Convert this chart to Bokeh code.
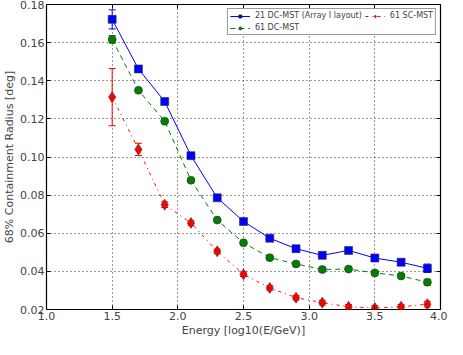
from bokeh.plotting import figure
from bokeh.models import (ColumnDataSource, Whisker, TeeHead, FixedTicker, NumeralTickFormatter,
                          Legend, LegendItem, Range1d, LinearAxis)
from bokeh.embed import file_html
from bokeh.resources import INLINE

energy = [1.5, 1.7, 1.9, 2.1, 2.3, 2.5, 2.7, 2.9, 3.1, 3.3, 3.5, 3.7, 3.9]
dc21 = [0.1722, 0.1462, 0.1291, 0.1007, 0.0786, 0.0662, 0.0574, 0.0519, 0.0484, 0.0510, 0.0470, 0.0448, 0.0416]
dc21_err = [0.005, 0.0012, 0.0008, 0.0008, 0.0007, 0.0007, 0.0008, 0.0008, 0.0008, 0.0009, 0.0010, 0.0015, 0.0022]
dc61 = [0.1617, 0.1350, 0.1188, 0.0878, 0.0669, 0.0550, 0.0472, 0.0439, 0.0410, 0.0412, 0.0392, 0.0376, 0.0343]
dc61_err = [0.0020, 0.0008, 0.0006, 0.0006, 0.0006, 0.0006, 0.0006, 0.0006, 0.0006, 0.0007, 0.0008, 0.0010, 0.0015]
sc61 = [0.1314, 0.1040, 0.0750, 0.0654, 0.0505, 0.0385, 0.0313, 0.0262, 0.0236, 0.0214, 0.0208, 0.0214, 0.0228]
sc61_err = [0.0150, 0.0032, 0.0015, 0.0012, 0.0012, 0.0012, 0.0012, 0.0012, 0.0012, 0.0012, 0.0012, 0.0012, 0.0015]

x_ticks = [1.0, 1.5, 2.0, 2.5, 3.0, 3.5, 4.0]
y_ticks = [0.02, 0.04, 0.06, 0.08, 0.10, 0.12, 0.14, 0.16, 0.18]

labels = ["21 DC-MST (Array I layout)", "61 DC-MST", "61 SC-MST"]
colors = ["#0000ff", "#008000", "#ff0000"]
dashes = ["solid", "5 4", "3 4 1 4"]
markers = ["square", "circle", "diamond"]

FONT = "DejaVu Sans"

p = figure(width=447, height=339, output_backend="svg", toolbar_location=None,
           x_range=Range1d(1.0, 4.0), y_range=Range1d(0.02, 0.18),
           min_border_left=40, min_border_right=7, min_border_top=4, min_border_bottom=26)
p.outline_line_color = "black"
p.outline_line_width = 1.2

for ax in (p.xaxis[0], p.yaxis[0]):
    ax.major_label_text_font = FONT
    ax.major_label_text_font_size = "11px"
    ax.axis_label_text_font = FONT
    ax.axis_label_text_font_size = "11px"
    ax.axis_label_text_font_style = "normal"
    ax.axis_line_color = None
    ax.major_tick_out = 0
    ax.major_tick_in = 4
    ax.minor_tick_out = 0
    ax.minor_tick_in = 0
    ax.major_label_standoff = 2
    ax.axis_label_standoff = 1

p.xaxis.ticker = FixedTicker(ticks=x_ticks)
p.yaxis.ticker = FixedTicker(ticks=y_ticks)
p.xaxis.formatter = NumeralTickFormatter(format="0.0")
p.yaxis.formatter = NumeralTickFormatter(format="0.00")
p.xaxis.axis_label = "Energy [log10(E/GeV)]"
p.yaxis.axis_label = "68% Containment Radius [deg]"

# mirrored inward ticks on top and right, like the original frame
for side, ticks in (("above", x_ticks), ("right", y_ticks)):
    ax2 = LinearAxis(ticker=FixedTicker(ticks=ticks), axis_line_color=None,
                     major_tick_out=0, major_tick_in=4, minor_tick_out=0, minor_tick_in=0,
                     major_label_text_font_size="0px", major_label_standoff=0,
                     major_label_text_alpha=0)
    p.add_layout(ax2, side)

p.grid.grid_line_color = "black"
p.grid.grid_line_dash = "1 3"
p.grid.grid_line_alpha = 0.8
p.grid.grid_line_width = 1

items = []
for vals, errs, lab, col, dash, mk in zip([dc21, dc61, sc61], [dc21_err, dc61_err, sc61_err],
                                          labels, colors, dashes, markers):
    src = ColumnDataSource(dict(x=energy, y=vals,
                                lo=[v - e for v, e in zip(vals, errs)],
                                hi=[v + e for v, e in zip(vals, errs)]))
    ln = p.line("x", "y", source=src, line_color=col, line_width=1, line_dash=dash)
    w = Whisker(source=src, base="x", lower="lo", upper="hi", dimension="height",
                line_color=col, line_width=1,
                upper_head=TeeHead(size=7, line_color=col, line_width=1),
                lower_head=TeeHead(size=7, line_color=col, line_width=1))
    p.add_layout(w)
    size = 11 if mk == "diamond" else 8
    sc = p.scatter("x", "y", source=src, marker=mk, size=size, fill_color=col,
                   line_color="#333333", line_width=0.6)
    items.append(LegendItem(label=lab, renderers=[ln, sc]))

legend = Legend(items=items, location="top_right", ncols=2)
legend.label_text_font = FONT
legend.label_text_font_size = "8px"
legend.label_height = 7
legend.glyph_height = 8
legend.glyph_width = 20
legend.spacing = 3
legend.padding = 2
legend.margin = 4
legend.label_standoff = 5
legend.border_line_color = "#333333"
legend.border_line_width = 1
legend.background_fill_alpha = 1
p.add_layout(legend)

open("out.html", "w").write(file_html(p, INLINE))
